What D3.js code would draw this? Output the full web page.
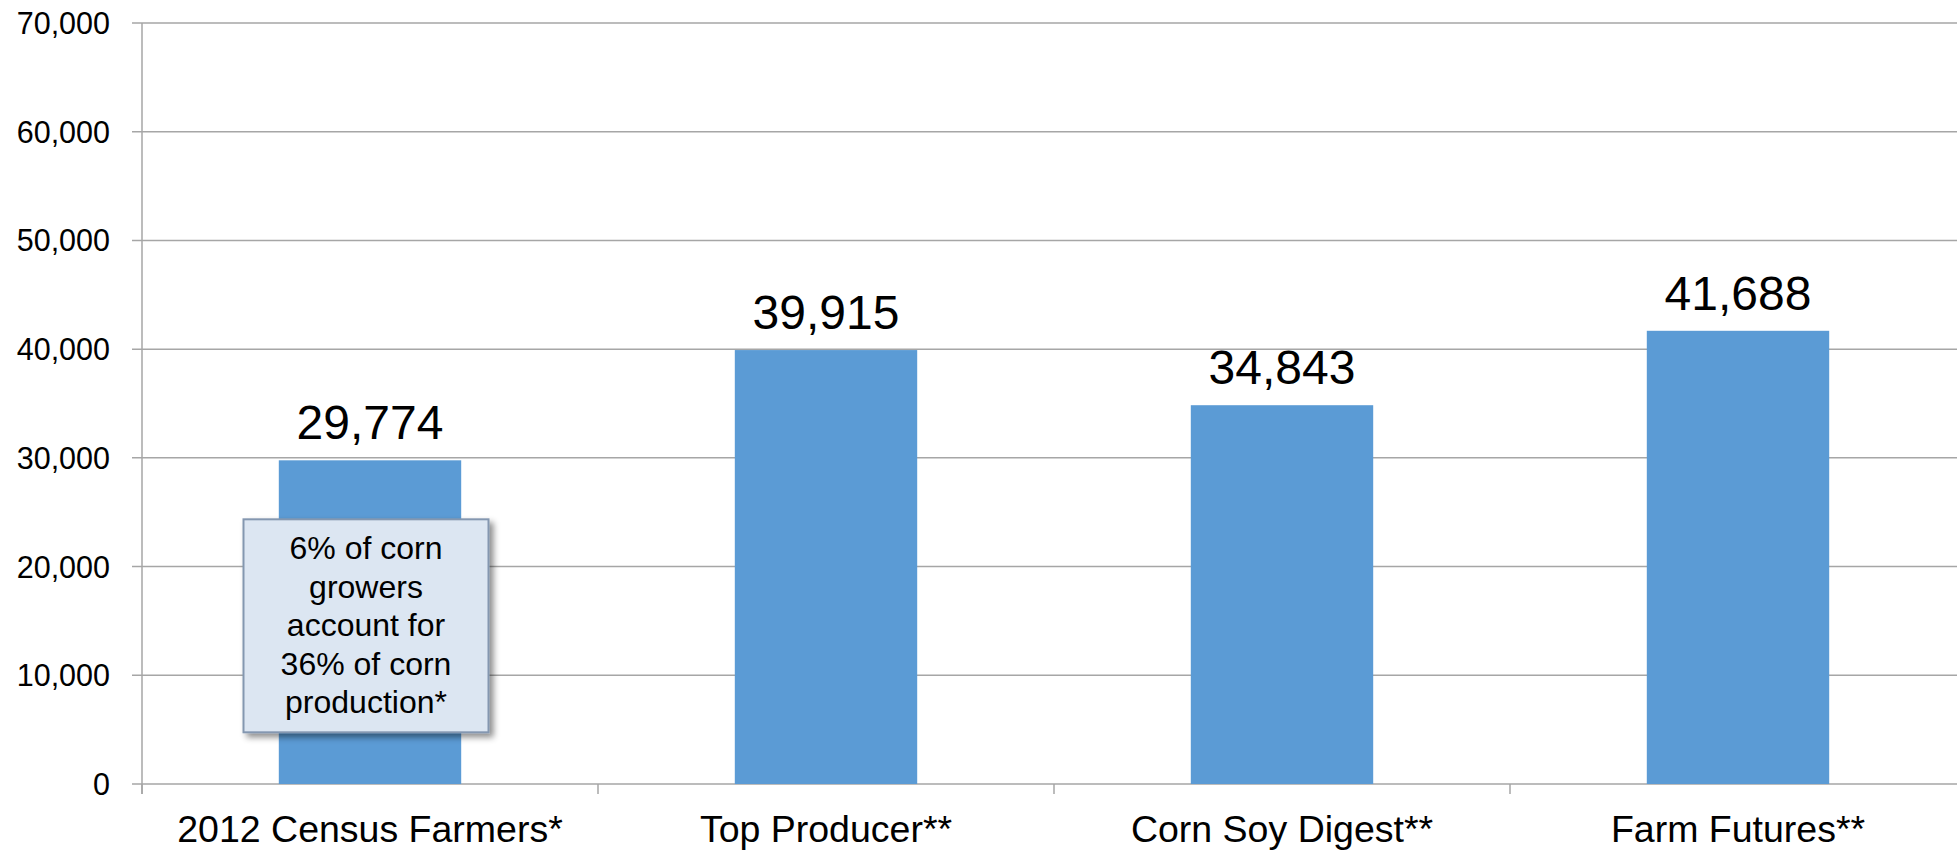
<!DOCTYPE html>
<html>
<head>
<meta charset="utf-8">
<script src="https://cdn.jsdelivr.net/npm/d3@7"></script>
<style>
  html, body { margin: 0; padding: 0; background: #fff; }
  svg { display: block; }
  text { font-family: "Liberation Sans", Arial, sans-serif; fill: #000; }
</style>
</head>
<body>
<svg id="chart" width="1957" height="850"></svg>
<script>
const categories = ["2012 Census Farmers*", "Top Producer**", "Corn Soy Digest**", "Farm Futures**"];
const values = [29774, 39915, 34843, 41688];
const yTicks = [0, 10000, 20000, 30000, 40000, 50000, 60000, 70000];
const noteLines = ["6% of corn", "growers", "account for", "36% of corn", "production*"];

const svg = d3.select("#chart");
const plotLeft = 142, plotRight = 1966, plotTop = 23, plotBottom = 784;

const x = d3.scaleBand().domain(categories).range([plotLeft, plotRight]).paddingInner(0.6).paddingOuter(0.3);
const y = d3.scaleLinear().domain([0, 70000]).range([plotBottom, plotTop]);
const step = x.step();
const fmt = d3.format(",");

// gridlines
svg.append("g").selectAll("line").data(yTicks).join("line")
  .attr("x1", plotLeft - 10).attr("x2", plotRight)
  .attr("y1", d => y(d)).attr("y2", d => y(d))
  .attr("stroke", "#a6a6a6").attr("stroke-width", 1.5);

// y axis line
svg.append("line").attr("x1", plotLeft).attr("x2", plotLeft).attr("y1", plotTop).attr("y2", plotBottom + 10)
  .attr("stroke", "#a6a6a6").attr("stroke-width", 1.5);

// x ticks at category boundaries
svg.append("g").selectAll("line").data(categories).join("line")
  .attr("x1", d => x(d) - step * 0.3).attr("x2", d => x(d) - step * 0.3)
  .attr("y1", plotBottom).attr("y2", plotBottom + 10)
  .attr("stroke", "#a6a6a6").attr("stroke-width", 1.5);

// y tick labels
svg.append("g").selectAll("text").data(yTicks).join("text")
  .attr("x", 110).attr("y", d => y(d) + 11)
  .attr("text-anchor", "end").attr("font-size", 30.5)
  .text(d => fmt(d));

// bars
svg.append("g").selectAll("rect").data(values).join("rect")
  .attr("x", (d, i) => x(categories[i]))
  .attr("width", x.bandwidth())
  .attr("y", d => y(d))
  .attr("height", d => y(0) - y(d))
  .attr("fill", "#5b9bd5");

// value labels
svg.append("g").selectAll("text").data(values).join("text")
  .attr("x", (d, i) => x(categories[i]) + x.bandwidth() / 2)
  .attr("y", d => y(d) - 21)
  .attr("text-anchor", "middle").attr("font-size", 48)
  .text(d => fmt(d));

// category labels
svg.append("g").selectAll("text").data(categories).join("text")
  .attr("x", d => x(d) + x.bandwidth() / 2)
  .attr("y", 842)
  .attr("text-anchor", "middle").attr("font-size", 37.5)
  .text(d => d);

// annotation box
const defs = svg.append("defs");
const f = defs.append("filter").attr("id", "shadow").attr("x", "-10%").attr("y", "-10%").attr("width", "130%").attr("height", "130%");
f.append("feDropShadow").attr("dx", 4).attr("dy", 4).attr("stdDeviation", 3).attr("flood-color", "#000").attr("flood-opacity", 0.45);

const cx = x(categories[0]) + x.bandwidth() / 2 - 4;
const boxW = 245, boxH = 213, boxTop = y(values[0]) + 59;
const g = svg.append("g");
g.append("rect")
  .attr("x", cx - boxW / 2).attr("y", boxTop)
  .attr("width", boxW).attr("height", boxH)
  .attr("fill", "#dce6f2").attr("stroke", "#8497b0").attr("stroke-width", 2)
  .attr("filter", "url(#shadow)");
g.selectAll("text").data(noteLines).join("text")
  .attr("x", cx).attr("y", (d, i) => boxTop + 40 + i * 38.5)
  .attr("text-anchor", "middle").attr("font-size", 32)
  .text(d => d);
</script>
</body>
</html>
